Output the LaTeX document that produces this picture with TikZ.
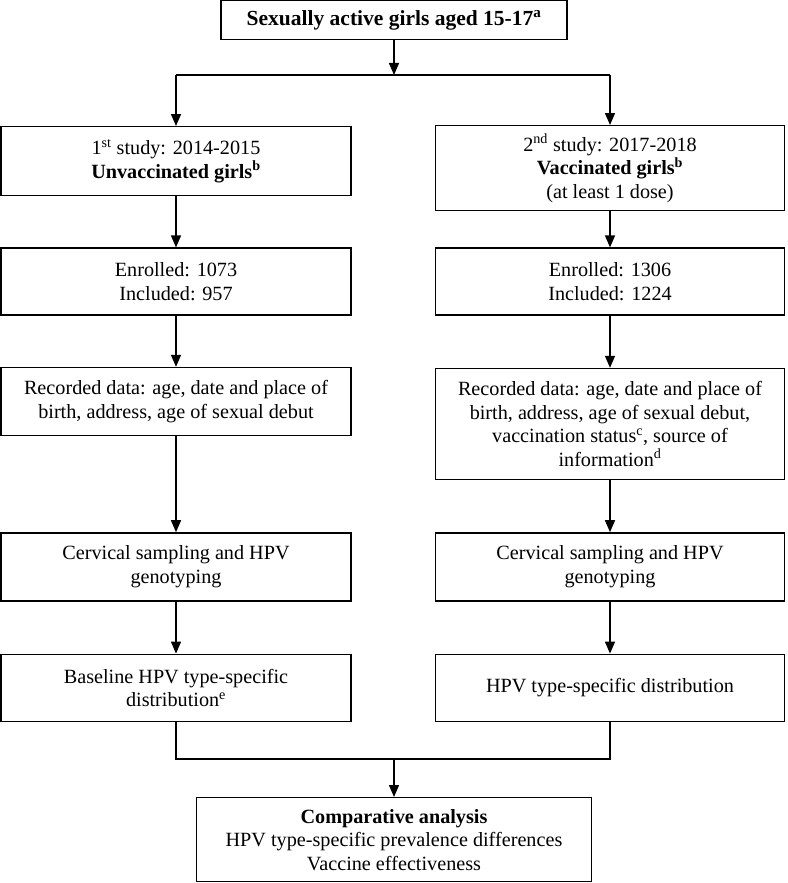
\documentclass[tikz,border=0pt]{standalone}
\usepackage{fontspec}
\setmainfont{Liberation Serif}
\usetikzlibrary{arrows.meta, positioning}

\tikzset{
  box/.style={draw, line width=1.4pt, align=center, inner sep=2pt,
              font=\fontsize{20.2}{23.5}\selectfont},
  arr/.style={-{Triangle[width=10pt,length=12pt]}, line width=1.4pt},
  link/.style={line width=1.4pt}
}

\begin{document}
\begin{tikzpicture}[x=1pt, y=-1pt]
  \useasboundingbox (0,0) rectangle (787,883);
  % Population
  \node[box, minimum width=346pt, minimum height=39pt,
        font=\fontsize{21.5}{24}\selectfont] (pop) at (394,20)
    {\textbf{Sexually active girls aged 15-17\textsuperscript{a}}};
  \coordinate (split) at (394,75);
  % First study (unvaccinated)
  \node[box, minimum width=350pt, minimum height=69pt, anchor=north] (study1) at (176,126)
    {1\textsuperscript{st} study: 2014-2015\\ \textbf{Unvaccinated girls\textsuperscript{b}}};
  \node[box, minimum width=350pt, minimum height=67pt, below=51pt of study1] (enrol1)
    {Enrolled: 1073\\ Included: 957};
  \node[box, minimum width=350pt, minimum height=68pt, below=51pt of enrol1] (data1)
    {Recorded data: age, date and place of\\ birth, address, age of sexual debut};
  \node[box, minimum width=350pt, minimum height=68pt, below=96pt of data1] (geno1)
    {Cervical sampling and HPV\\ genotyping};
  \node[box, minimum width=350pt, minimum height=67pt, below=52pt of geno1] (dist1)
    {Baseline HPV type-specific\\ distribution\textsuperscript{e}};
  % Second study (vaccinated)
  \node[box, minimum width=349pt, minimum height=85pt, anchor=north] (study2) at (610,125)
    {2\textsuperscript{nd} study: 2017-2018\\ \textbf{Vaccinated girls\textsuperscript{b}}\\ (at least 1 dose)};
  \node[box, minimum width=349pt, minimum height=67pt, below=36pt of study2] (enrol2)
    {Enrolled: 1306\\ Included: 1224};
  \node[box, minimum width=349pt, minimum height=111pt, below=52pt of enrol2] (data2)
    {Recorded data: age, date and place of\\ birth, address, age of sexual debut,\\
     vaccination status\textsuperscript{c}, source of\\ information\textsuperscript{d}};
  \node[box, minimum width=349pt, minimum height=68pt, below=52pt of data2] (geno2)
    {Cervical sampling and HPV\\ genotyping};
  \node[box, minimum width=349pt, minimum height=67pt, below=52pt of geno2] (dist2)
    {HPV type-specific distribution};
  % Comparison
  \coordinate (merge) at (394,759);
  \node[box, minimum width=395pt, minimum height=84pt, anchor=north] (comp) at (394,797)
    {\textbf{Comparative analysis}\\ HPV type-specific prevalence differences\\ Vaccine effectiveness};
  % Arrows
  \draw[arr] (pop.south) -- (split);
  \draw[link] (split -| study1.north) -- (split -| study2.north);
  \draw[arr] (split -| study1.north) -- (study1.north);
  \draw[arr] (split -| study2.north) -- (study2.north);
  \draw[arr] (study1) -- (enrol1);
  \draw[arr] (enrol1) -- (data1);
  \draw[arr] (data1) -- (geno1);
  \draw[arr] (geno1) -- (dist1);
  \draw[arr] (study2) -- (enrol2);
  \draw[arr] (enrol2) -- (data2);
  \draw[arr] (data2) -- (geno2);
  \draw[arr] (geno2) -- (dist2);
  \draw[link] (dist1.south) -- (merge -| dist1.south) -- (merge -| dist2.south) -- (dist2.south);
  \draw[arr] (merge) -- (comp.north);
\end{tikzpicture}
\end{document}
